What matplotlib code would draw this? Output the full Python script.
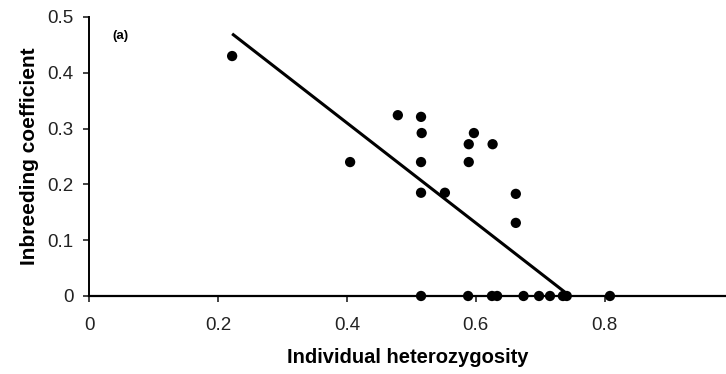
import numpy as np
import matplotlib
matplotlib.use('Agg')
import matplotlib.pyplot as plt

# ── Data ──────────────────────────────────────────────────────────────────────
het = [0.222, 0.405, 0.479, 0.515, 0.516, 0.515, 0.515, 0.552,
       0.597, 0.589, 0.589, 0.626, 0.662, 0.662,
       0.515, 0.588, 0.625, 0.633, 0.674, 0.698, 0.715, 0.735, 0.741, 0.808]
inbr = [0.430, 0.240, 0.324, 0.321, 0.292, 0.240, 0.185, 0.185,
        0.292, 0.272, 0.240, 0.272, 0.183, 0.131,
        0.0, 0.0, 0.0, 0.0, 0.0, 0.0, 0.0, 0.0, 0.0, 0.0]

# fitted line: y = intercept + slope * x, drawn between these x limits
fit_intercept = 0.669
fit_slope = -0.897
fit_x = [0.222, 0.746]

xticks = [0, 0.2, 0.4, 0.6, 0.8]
xticklabels = ['0', '0.2', '0.4', '0.6', '0.8']
yticks = [0, 0.1, 0.2, 0.3, 0.4, 0.5]
yticklabels = ['0', '0.1', '0.2', '0.3', '0.4', '0.5']

# ── Plot ──────────────────────────────────────────────────────────────────────
plt.rcParams['font.family'] = ['Liberation Sans', 'DejaVu Sans']

fig = plt.figure(figsize=(7.26, 3.74), dpi=100)
ax = fig.add_axes([0.1226, 0.2086, 0.8774, 0.746])

fx = np.array(fit_x)
ax.plot(fx, fit_intercept + fit_slope * fx, color='black', linewidth=2.2,
        solid_capstyle='butt', zorder=3)
ax.scatter(het, inbr, s=55, color='black', edgecolors='none', zorder=4,
           clip_on=False)

ax.text(0.036, 0.466, '(a)', fontsize=9.5, fontweight='bold', ha='left',
        va='center')

ax.set_xlim(0, 0.988)
ax.set_ylim(0, 0.5)
ax.set_xticks(xticks)
ax.set_xticklabels(xticklabels)
ax.set_yticks(yticks)
ax.set_yticklabels(yticklabels)
ax.tick_params(labelsize=13.5, length=4, width=1.2, direction='out', pad=7,
               colors='#222222')
ax.tick_params(axis='x', pad=11)

ax.set_xlabel('Individual heterozygosity', fontsize=14.5, fontweight='bold',
              labelpad=10)
ax.set_ylabel('Inbreeding coefficient', fontsize=15, fontweight='bold',
              labelpad=6)

ax.spines['top'].set_visible(False)
ax.spines['right'].set_visible(False)
ax.spines['left'].set_linewidth(1.4)
ax.spines['bottom'].set_linewidth(1.6)

fig.savefig('out.png', dpi=100)
